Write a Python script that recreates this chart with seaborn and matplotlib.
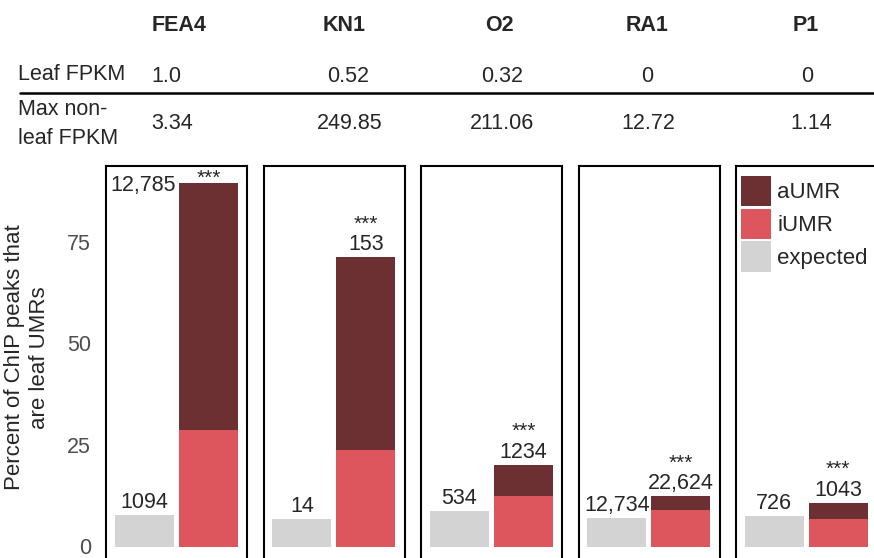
import matplotlib
matplotlib.use("Agg")
import matplotlib.pyplot as plt
from matplotlib.lines import Line2D
from matplotlib.patches import Patch
import pandas as pd
import seaborn as sns

# ---- data -------------------------------------------------------------
genes = ["FEA4", "KN1", "O2", "RA1", "P1"]
leaf_fpkm = ["1.0", "0.52", "0.32", "0", "0"]
max_nonleaf_fpkm = ["3.34", "249.85", "211.06", "12.72", "1.14"]

expected_pct = [7.75, 6.8, 8.75, 7.0, 7.5]
iumr_pct = [28.7, 23.7, 12.5, 9.0, 6.8]
aumr_pct = [60.7, 47.5, 7.55, 3.4, 3.9]

expected_n = [1094, 14, 534, 12734, 726]
observed_n = [12785, 153, 1234, 22624, 1043]
significance = ["***", "***", "***", "***", "***"]

bar_kinds = ["expected", "observed"]
y_ticks = [0, 25, 50, 75]

COLORS = {"aUMR": "#6D3032", "iUMR": "#DD565E", "expected": "#D3D3D3"}

# ---- layout (pixels) --------------------------------------------------
W, H, DPI = 874, 558, 100
FS = 15.5
header_x = [179, 344, 499, 647, 806]
leaf_x = [166, 348, 502, 647, 807]
max_x = [172, 350, 502, 648, 811]

PANEL_LEFT0, PANEL_PITCH, PANEL_W = 106.3, 157.4, 141
PX_PER_UNIT = 4.064
ZERO_PX = 546.5
YMIN, YMAX = -4, 93.7
AX_TOP = ZERO_PX - YMAX * PX_PER_UNIT
AX_BOT = ZERO_PX - YMIN * PX_PER_UNIT
BAR_W = 0.922

sns.set_theme(style="white")
plt.rcParams["font.family"] = ["Liberation Sans", "DejaVu Sans"]

fig = plt.figure(figsize=(W / DPI, H / DPI), dpi=DPI)
fig.patch.set_facecolor("white")


def fx(px):
    return px / W


def fy(py):
    return 1 - py / H


def fmt(n):
    return f"{n:,}" if n >= 10000 else str(n)


# ---- expression table above the panels --------------------------------
for gx, g in zip(header_x, genes):
    fig.text(fx(gx), fy(25.5), g, ha="center", va="center",
             fontsize=FS, fontweight="bold")

fig.text(fx(18), fy(74.5), "Leaf FPKM", ha="left", va="center", fontsize=FS)
for vx, v in zip(leaf_x, leaf_fpkm):
    fig.text(fx(vx), fy(76), v, ha="center", va="center", fontsize=FS)

fig.add_artist(Line2D([fx(20), fx(874)], [fy(93.3), fy(93.3)],
                      color="black", lw=1.8))

fig.text(fx(18), fy(124), "Max non-\nleaf FPKM", ha="left", va="center",
         fontsize=FS, linespacing=1.5)
for vx, v in zip(max_x, max_nonleaf_fpkm):
    fig.text(fx(vx), fy(123.5), v, ha="center", va="center", fontsize=FS)

# ---- bar panels --------------------------------------------------------
for i, gene in enumerate(genes):
    left = PANEL_LEFT0 + i * PANEL_PITCH
    ax = fig.add_axes([fx(left), fy(AX_BOT), PANEL_W / W,
                       (AX_BOT - AX_TOP) / H])
    total = iumr_pct[i] + aumr_pct[i]
    df = pd.DataFrame({
        "kind": bar_kinds,
        "total": [expected_pct[i], total],
        "iumr": [0.0, iumr_pct[i]],
    })
    sns.barplot(data=df, x="kind", y="total", hue="kind", order=bar_kinds,
                hue_order=bar_kinds,
                palette=[COLORS["expected"], COLORS["aUMR"]],
                width=BAR_W, linewidth=0, saturation=1, errorbar=None,
                legend=False, ax=ax)
    sns.barplot(data=df, x="kind", y="iumr", order=bar_kinds,
                color=COLORS["iUMR"], width=BAR_W, linewidth=0,
                saturation=1, errorbar=None, ax=ax)

    ax.set_xlim(-0.597, 1.606)
    ax.set_ylim(YMIN, YMAX)
    ax.set_xlabel("")
    ax.set_ylabel("")
    ax.set_xticks([])
    for sp in ax.spines.values():
        sp.set_visible(True)
        sp.set_color("black")
        sp.set_linewidth(1.5)

    if i == 0:
        ax.set_yticks(y_ticks)
        ax.tick_params(axis="y", length=0, pad=11, labelsize=FS,
                       labelcolor="#4D4D4D")
    else:
        ax.set_yticks([])

    # counts above the bars
    ax.annotate(fmt(expected_n[i]), (0, expected_pct[i]), xytext=(0, 1.5),
                textcoords="offset points", ha="center", va="bottom",
                fontsize=FS)
    if total > YMAX - 10:
        # no headroom: count sits beside the bar
        ax.annotate(fmt(observed_n[i]), (1 - BAR_W / 2, total),
                    xytext=(-2.2, -1.5), textcoords="offset points",
                    ha="right", va="center", fontsize=FS)
        ax.annotate(significance[i], (1, total), xytext=(0, -0.8),
                    textcoords="offset points", ha="center", va="baseline",
                    fontsize=15)
    else:
        ax.annotate(fmt(observed_n[i]), (1, total), xytext=(0, 1.5),
                    textcoords="offset points", ha="center", va="bottom",
                    fontsize=FS)
        ax.annotate(significance[i], (1, total), xytext=(0, 20),
                    textcoords="offset points", ha="center", va="baseline",
                    fontsize=15)

# ---- y label and legend -------------------------------------------------
fig.text(fx(27), fy(357.5), "Percent of ChIP peaks that\nare leaf UMRs",
         rotation=90, ha="center", va="center", fontsize=16,
         multialignment="center", linespacing=1.3)

handles = [Patch(facecolor=COLORS[k], edgecolor="none")
           for k in ["aUMR", "iUMR", "expected"]]
fig.legend(handles, ["aUMR", "iUMR", "expected"], loc="upper left",
           bbox_to_anchor=(fx(741), fy(176)), frameon=False, fontsize=16,
           handlelength=1.36, handleheight=1.72, handletextpad=0.27,
           labelspacing=0.11, borderpad=0, borderaxespad=0)

fig.savefig("out.png", dpi=DPI, facecolor="white")
